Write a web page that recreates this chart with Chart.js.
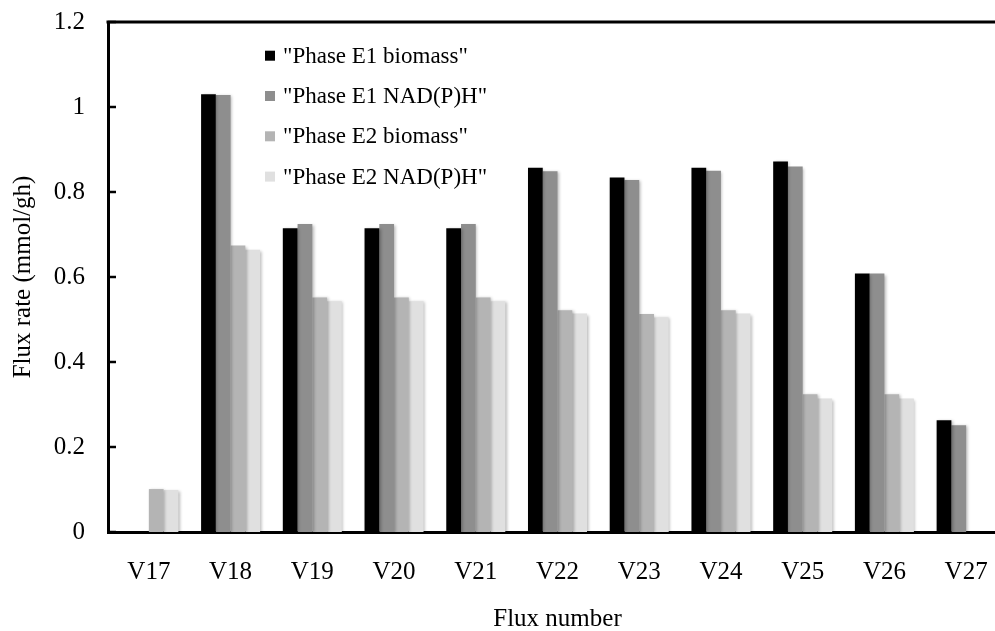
<!DOCTYPE html>
<html>
<head>
<meta charset="utf-8">
<title>Flux rate by flux number</title>
<script src="https://cdn.jsdelivr.net/npm/chart.js@4/dist/chart.umd.min.js"></script>
<style>
  html, body { margin: 0; padding: 0; background: #fff; overflow: hidden; }
  #wrap { width: 1010px; height: 631px; }
</style>
</head>
<body>
<div id="wrap"><canvas id="chart" width="1010" height="631"></canvas></div>
<script>
// Flux identifiers along the x axis
const categories = ['V17', 'V18', 'V19', 'V20', 'V21', 'V22', 'V23', 'V24', 'V25', 'V26', 'V27'];

// Flux rates (mmol/gh) per phase and objective
const phaseE1Biomass = [null, 1.030, 0.715, 0.715, 0.715, 0.857, 0.834, 0.857, 0.872, 0.608, 0.263];
const phaseE1Nadph   = [null, 1.028, 0.725, 0.725, 0.725, 0.849, 0.828, 0.850, 0.860, 0.608, 0.251];
const phaseE2Biomass = [0.101, 0.674, 0.552, 0.552, 0.552, 0.522, 0.513, 0.522, 0.324, 0.324, null];
const phaseE2Nadph   = [0.099, 0.664, 0.543, 0.543, 0.543, 0.514, 0.505, 0.514, 0.314, 0.314, null];

// Series names shown in the legend
const seriesLabels = ['"Phase E1 biomass"', '"Phase E1 NAD(P)H"', '"Phase E2 biomass"', '"Phase E2 NAD(P)H"'];

// Y axis tick values and their labels
const yTickValues = [0, 0.2, 0.4, 0.6, 0.8, 1, 1.2];
const yTickLabels = ['0', '0.2', '0.4', '0.6', '0.8', '1', '1.2'];

const seriesColors = ['#000000', '#8e8e8e', '#b4b4b4', '#e0e0e0'];
const serifFont = "'Liberation Serif', 'Times New Roman', serif";

// Soft drop shadow behind the bars
const barShadow = {
  id: 'barShadow',
  beforeDatasetsDraw(chart) {
    const ctx = chart.ctx;
    ctx.save();
    ctx.shadowColor = 'rgba(0,0,0,0.28)';
    ctx.shadowBlur = 3;
    ctx.shadowOffsetX = 1.5;
    ctx.shadowOffsetY = 1;
  },
  afterDatasetsDraw(chart) {
    chart.ctx.restore();
  }
};

// Frame top line and inward tick marks on the value axis
const frameAndTicks = {
  id: 'frameAndTicks',
  afterDraw(chart) {
    const ctx = chart.ctx;
    const area = chart.chartArea;
    const y = chart.scales.y;
    ctx.save();
    ctx.strokeStyle = '#000';
    ctx.lineWidth = 3;
    ctx.beginPath();
    ctx.moveTo(area.left - 1.5, area.top);
    ctx.lineTo(area.right, area.top);
    ctx.stroke();
    ctx.lineWidth = 2.5;
    y.ticks.forEach(t => {
      const py = y.getPixelForValue(t.value);
      ctx.beginPath();
      ctx.moveTo(area.left, py);
      ctx.lineTo(area.left + 8, py);
      ctx.stroke();
    });
    ctx.restore();
  }
};

// Legend placed inside the plot area
const innerLegend = {
  id: 'innerLegend',
  afterDraw(chart) {
    const ctx = chart.ctx;
    const area = chart.chartArea;
    ctx.save();
    ctx.font = '23px ' + serifFont;
    ctx.textBaseline = 'middle';
    ctx.textAlign = 'left';
    chart.data.datasets.forEach((ds, i) => {
      const cy = area.top + 33.7 + i * 40.3;
      const bx = area.left + 157;
      ctx.fillStyle = ds.backgroundColor;
      ctx.fillRect(bx, cy - 5, 10, 10);
      ctx.fillStyle = '#000';
      ctx.fillText(ds.label, bx + 18, cy + 1);
    });
    ctx.restore();
  }
};

const seriesValues = [phaseE1Biomass, phaseE1Nadph, phaseE2Biomass, phaseE2Nadph];

new Chart(document.getElementById('chart'), {
  type: 'bar',
  data: {
    labels: categories,
    datasets: seriesValues.map((vals, i) => ({
      label: seriesLabels[i],
      data: vals,
      backgroundColor: seriesColors[i],
      borderWidth: 0,
      categoryPercentage: 0.722,
      barPercentage: 1.0
    }))
  },
  options: {
    responsive: false,
    animation: false,
    devicePixelRatio: 1,
    layout: { padding: { top: 22, right: 3, left: 0, bottom: 0 } },
    plugins: {
      legend: { display: false },
      tooltip: { enabled: false }
    },
    scales: {
      x: {
        grid: { display: false, drawTicks: true, tickLength: 25 },
        border: { display: true, color: '#000', width: 3 },
        ticks: {
          color: '#000',
          padding: 0,
          maxRotation: 0,
          autoSkip: false,
          font: { family: serifFont, size: 25 }
        },
        title: {
          display: true,
          text: 'Flux number',
          color: '#000',
          padding: { top: 0, bottom: -3 },
          font: { family: serifFont, size: 25 }
        },
        afterFit(scale) { scale.height = 99; }
      },
      y: {
        min: 0,
        max: 1.2,
        grid: { display: false, drawTicks: true, tickLength: 23 },
        border: { display: true, color: '#000', width: 3 },
        afterBuildTicks(scale) {
          scale.ticks = yTickValues.map(v => ({ value: v }));
        },
        ticks: {
          color: '#000',
          padding: 0,
          font: { family: serifFont, size: 25 },
          callback(value) {
            const idx = yTickValues.findIndex(v => Math.abs(v - value) < 1e-9);
            return idx >= 0 ? yTickLabels[idx] : '';
          }
        },
        title: {
          display: true,
          text: 'Flux rate (mmol/gh)',
          color: '#000',
          padding: { top: 8, bottom: 0 },
          font: { family: serifFont, size: 25 }
        },
        afterFit(scale) { scale.width = 108; }
      }
    }
  },
  plugins: [barShadow, frameAndTicks, innerLegend]
});
</script>
</body>
</html>
